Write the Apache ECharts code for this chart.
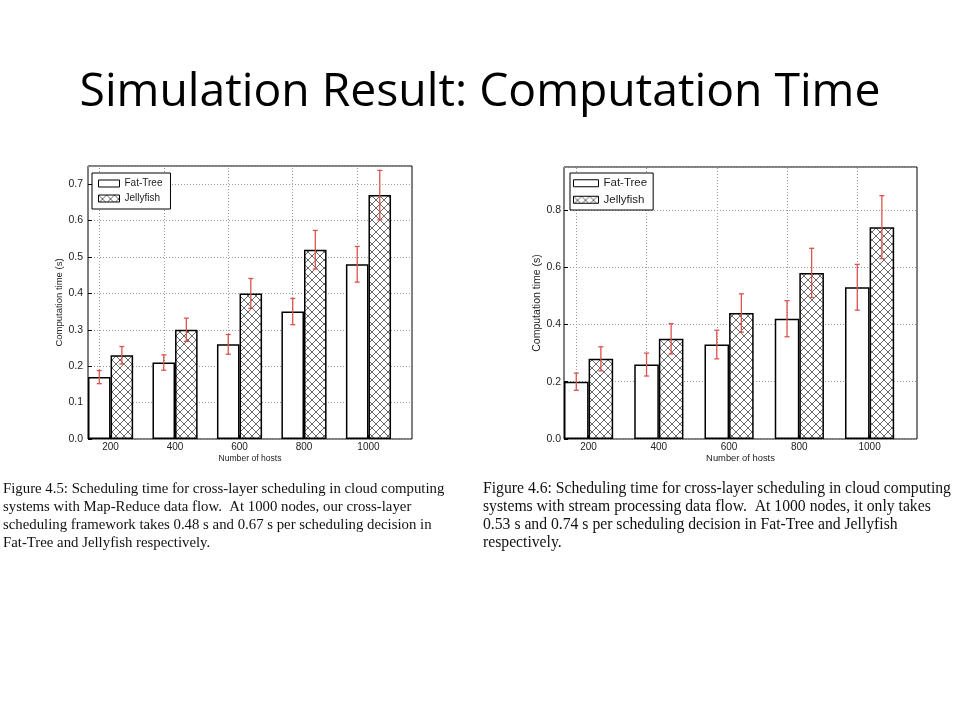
<!DOCTYPE html>
<html><head><meta charset="utf-8">
<script src="https://cdn.jsdelivr.net/npm/echarts@6/dist/echarts.min.js"></script>
<style>html,body{margin:0;padding:0;background:#fff}#c{width:960px;height:720px}</style>
</head><body><div id="c"></div>
<script>
// ---------- data ----------
const hosts = [200, 400, 600, 800, 1000];
const seriesNames = ['Fat-Tree', 'Jellyfish'];
// Figure 4.5 : Map-Reduce data flow
const mrFatTree      = [0.17, 0.21, 0.26, 0.35, 0.48];
const mrFatTreeErr   = [0.018, 0.021, 0.027, 0.036, 0.049];
const mrJellyfish    = [0.23, 0.30, 0.40, 0.52, 0.67];
const mrJellyfishErr = [0.024, 0.032, 0.041, 0.053, 0.068];
// Figure 4.6 : stream processing data flow
const spFatTree      = [0.20, 0.26, 0.33, 0.42, 0.53];
const spFatTreeErr   = [0.030, 0.040, 0.050, 0.063, 0.080];
const spJellyfish    = [0.28, 0.35, 0.44, 0.58, 0.74];
const spJellyfishErr = [0.042, 0.053, 0.067, 0.086, 0.110];

const titleText = 'Simulation Result: Computation Time';
const xName = 'Number of hosts';
const yName = 'Computation time (s)';
const captionLeft = [
  'Figure 4.5: Scheduling time for cross-layer scheduling in cloud computing',
  'systems with Map-Reduce data flow.  At 1000 nodes, our cross-layer',
  'scheduling framework takes 0.48 s and 0.67 s per scheduling decision in',
  'Fat-Tree and Jellyfish respectively.'
];
const captionRight = [
  'Figure 4.6: Scheduling time for cross-layer scheduling in cloud computing',
  'systems with stream processing data flow.  At 1000 nodes, it only takes',
  '0.53 s and 0.74 s per scheduling decision in Fat-Tree and Jellyfish',
  'respectively.'
];

// ---------- styles ----------
const BAR_UNITS = 70;           // bar width in x-axis units
const X_MIN = 130, X_MAX = 1135;
const SANS = '"Liberation Sans", Arial, sans-serif';
const TXT = '#222';
const ERR = '#d9534f';

function hatch() {
  const s = 8, c = document.createElement('canvas');
  c.width = s; c.height = s;
  const g = c.getContext('2d');
  g.fillStyle = '#fff'; g.fillRect(0, 0, s, s);
  g.strokeStyle = '#444'; g.lineWidth = 0.8;
  g.beginPath();
  g.moveTo(-1, -1); g.lineTo(s + 1, s + 1);
  g.moveTo(s + 1, -1); g.lineTo(-1, s + 1);
  g.stroke();
  return c;
}
const hatchFill = { image: hatch(), repeat: 'repeat' };

const grids = [
  { left: 88, top: 166, width: 324, height: 273 },
  { left: 564, top: 167, width: 353, height: 272 }
];
const yCfg = [
  { max: 0.75, interval: 0.1, font: 10.5, nameFont: 9.5, margin: 5, nameGap: 19 },
  { max: 0.95, interval: 0.2, font: 10.5, nameFont: 10.5, margin: 3, nameGap: 20 }
];
const xCfg = [{ font: 10, nameFont: 8.6 }, { font: 10, nameFont: 9.4 }];

function xAxis(i) {
  return {
    type: 'value', gridIndex: i, min: X_MIN, max: X_MAX,
    name: xName, nameLocation: 'middle', nameGap: 15,
    nameTextStyle: { fontFamily: SANS, fontSize: xCfg[i].nameFont, color: TXT },
    axisLine: { show: false },
    axisTick: { show: true, inside: true, length: 4, customValues: hosts, lineStyle: { color: '#000' } },
    axisLabel: { customValues: hosts, fontFamily: SANS, fontSize: xCfg[i].font, color: TXT, margin: 3,
      formatter: v => String(v) },
    splitLine: { show: false }
  };
}
function yAxis(i) {
  const c = yCfg[i];
  return {
    type: 'value', gridIndex: i, min: 0, max: c.max, interval: c.interval,
    name: yName, nameLocation: 'middle', nameGap: c.nameGap,
    nameTextStyle: { fontFamily: SANS, fontSize: c.nameFont, color: TXT },
    axisLine: { show: false },
    axisTick: { show: true, inside: true, length: 4, lineStyle: { color: '#000' } },
    axisLabel: { showMaxLabel: false, fontFamily: SANS, fontSize: c.font, color: TXT, margin: c.margin,
      formatter: v => v.toFixed(1) },
    splitLine: { show: true, lineStyle: { type: [1, 2], color: '#999', width: 1 } }
  };
}

function barSeries(i, name, vals, fill, withGrid) {
  const s = {
    type: 'bar', name, xAxisIndex: i, yAxisIndex: i,
    data: hosts.map((h, k) => [h, vals[k]]),
    barWidth: (BAR_UNITS / 200 * 100) + '%', barGap: '0%',
    itemStyle: { color: fill, borderColor: '#000', borderWidth: 1.5 },
    emphasis: { disabled: true }, z: 3
  };
  if (withGrid) {
    s.markLine = {
      silent: true, symbol: ['none', 'none'], label: { show: false }, animation: false,
      lineStyle: { type: [1, 2], color: '#999', width: 1 }, z: 1,
      data: hosts.map(h => ({ xAxis: h }))
    };
  }
  return s;
}

function errSeries(i, vals, errs, side) {
  const off = side * BAR_UNITS / 2;
  return {
    type: 'custom', xAxisIndex: i, yAxisIndex: i, silent: true, z: 5,
    encode: { x: 0, y: [1, 2] },
    data: hosts.map((h, k) => [h, vals[k] - errs[k], vals[k] + errs[k]]),
    renderItem(params, api) {
      const x = api.value(0) + off;
      const a = api.coord([x, api.value(2)]);
      const b = api.coord([x, api.value(1)]);
      const cw = 2.5, st = { stroke: ERR, lineWidth: 1.3 };
      return { type: 'group', children: [
        { type: 'line', shape: { x1: a[0], y1: a[1], x2: b[0], y2: b[1] }, style: st },
        { type: 'line', shape: { x1: a[0] - cw, y1: a[1], x2: a[0] + cw, y2: a[1] }, style: st },
        { type: 'line', shape: { x1: b[0] - cw, y1: b[1], x2: b[0] + cw, y2: b[1] }, style: st }
      ]};
    }
  };
}

function legend(i, left, top, font, itemW, pad) {
  return {
    show: true, data: seriesNames, orient: 'vertical', left, top,
    padding: pad, itemGap: 4, itemWidth: itemW, itemHeight: 7,
    borderColor: '#000', borderWidth: 1, borderRadius: 0, backgroundColor: '#fff',
    icon: 'rect', selectedMode: false,
    itemStyle: { borderColor: '#000', borderWidth: 1 },
    textStyle: { fontFamily: SANS, fontSize: font, color: TXT, lineHeight: font + 1 }
  };
}

function captionText(lines, left, size) {
  return {
    type: 'text', left, top: 480,
    style: { text: lines.join('\n'), fontFamily: '"Liberation Serif", "Times New Roman", serif',
      fontSize: size, lineHeight: 18, fill: '#111' }
  };
}

const chart = echarts.init(document.getElementById('c'), null, { renderer: 'canvas' });
chart.setOption({
  animation: false,
  backgroundColor: '#fff',
  title: {
    text: titleText, left: 'center', top: 65,
    textStyle: { fontFamily: '"Open Sans", sans-serif', fontSize: 46.3, fontWeight: 'normal', color: '#000' }
  },
  grid: grids.map(g => Object.assign({ show: true, borderColor: '#000', borderWidth: 1, backgroundColor: '#fff' }, g)),
  xAxis: [xAxis(0), xAxis(1)],
  yAxis: [yAxis(0), yAxis(1)],
  legend: [
    legend(0, 92, 173, 10, 21, [5, 8, 5, 6]),
    legend(1, 570, 173, 11.5, 25, [4, 6, 4, 3])
  ],
  series: [
    barSeries(0, seriesNames[0], mrFatTree, '#fff', true),
    barSeries(0, seriesNames[1], mrJellyfish, hatchFill, false),
    errSeries(0, mrFatTree, mrFatTreeErr, -1),
    errSeries(0, mrJellyfish, mrJellyfishErr, 1),
    barSeries(1, seriesNames[0], spFatTree, '#fff', true),
    barSeries(1, seriesNames[1], spJellyfish, hatchFill, false),
    errSeries(1, spFatTree, spFatTreeErr, -1),
    errSeries(1, spJellyfish, spJellyfishErr, 1)
  ],
  graphic: [
    captionText(captionLeft, 3, 14.8),
    captionText(captionRight, 483, 15.7)
  ]
});
</script></body></html>
